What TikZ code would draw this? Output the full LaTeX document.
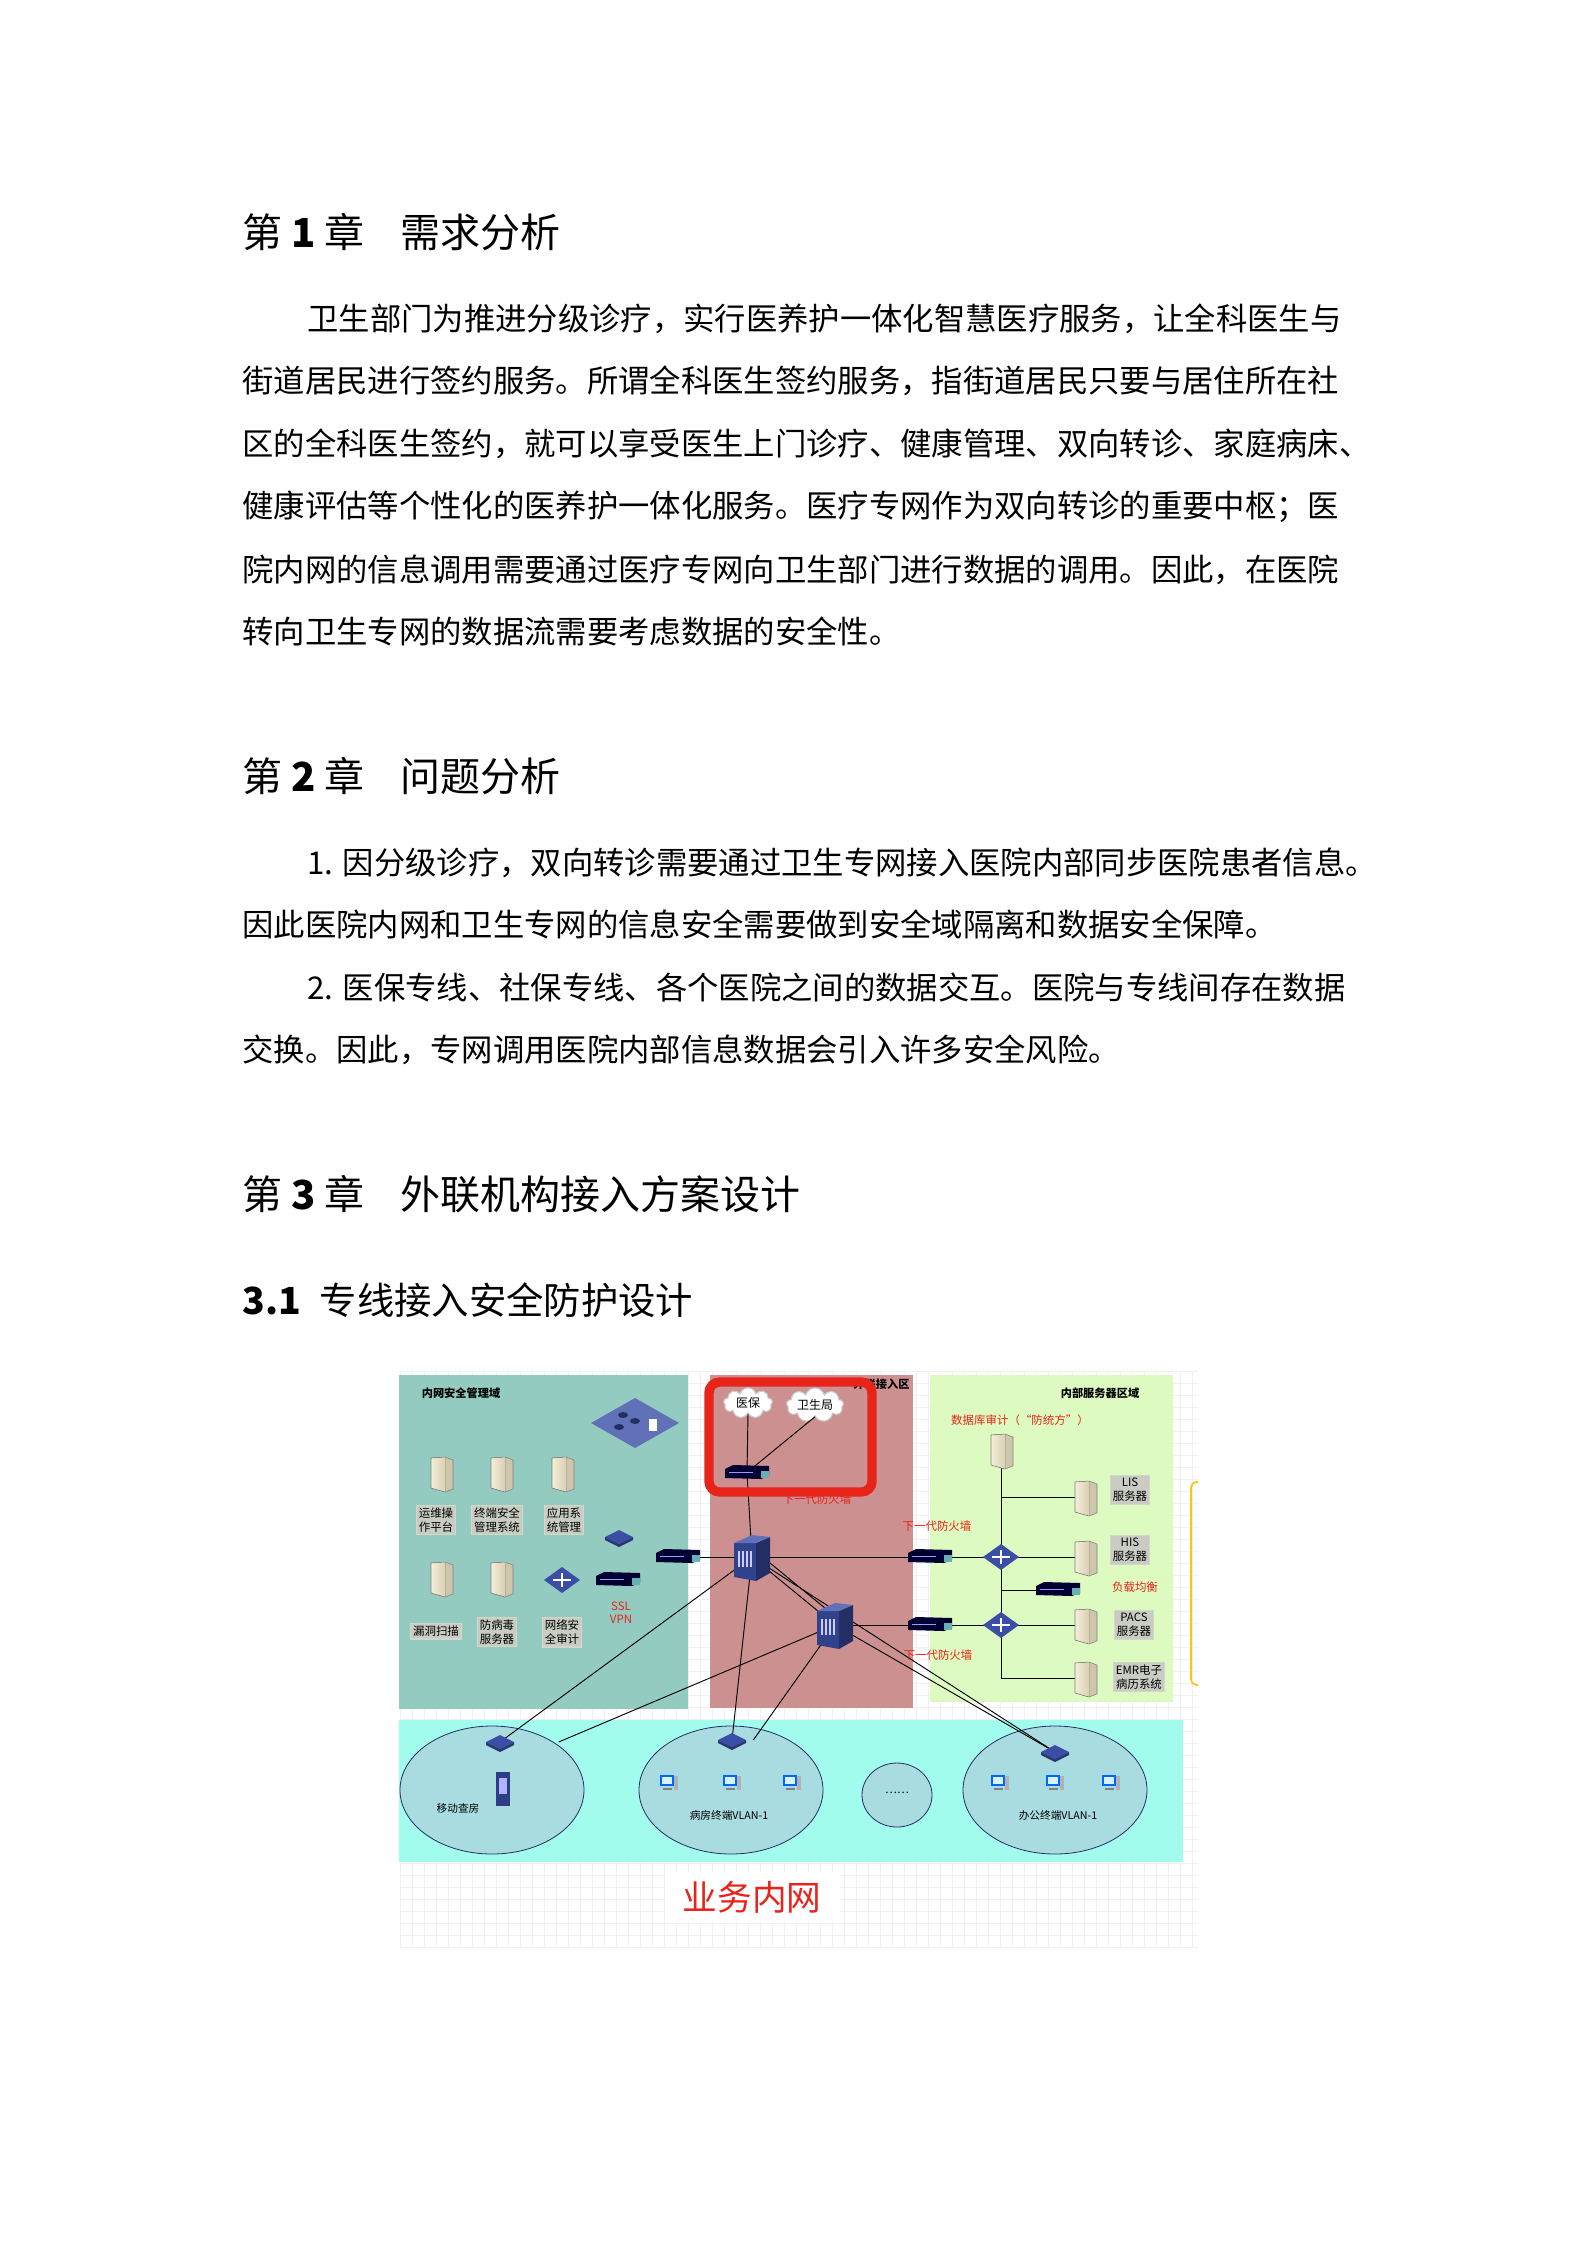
\documentclass[tikz,border=0pt]{standalone}
\usepackage{fontspec}
\setmainfont{Noto Sans CJK SC}
\usetikzlibrary{shapes.symbols}
\definecolor{teal1}{HTML}{94CBC0}
\definecolor{redz}{HTML}{CC9090}
\definecolor{greenz}{HTML}{DDFBC0}
\definecolor{cyanz}{HTML}{A2FCEE}
\definecolor{circz}{HTML}{A9DCE0}
\definecolor{blueic}{HTML}{3A4EA6}
\definecolor{redt}{HTML}{E8231A}
\definecolor{srvc}{HTML}{EFE3C0}
\definecolor{lblg}{HTML}{C9CCC2}
\begin{document}
\begin{tikzpicture}[x=0.375pt,y=-0.375pt,
  body/.style={anchor=base west,inner sep=0,font=\fontsize{11.75}{12}\selectfont},
  head/.style={anchor=base west,inner sep=0,font=\fontsize{15}{15}\selectfont},
  lbl/.style={fill=lblg,draw=lblg!80!white,inner sep=1pt,align=center,font=\fontsize{4.3}{5.2}\selectfont},
  rlbl/.style={text=redt,inner sep=0,align=center,font=\fontsize{4.3}{5}\selectfont},
  ttl/.style={inner sep=0,font=\fontsize{4.2}{5}\selectfont\bfseries},
  dot/.style={inner sep=0,minimum size=2pt},
  ln/.style={black,line width=0.35pt},
  srv/.pic={\fill[srvc!70!gray] (4,-16) -- (12,-13) -- (12,16) -- (4,19) -- cycle;
            \fill[left color=srvc!60!white,right color=srvc!80!gray] (-10,-15) -- (4,-16) -- (4,19) -- (-10,15) -- cycle;
            \draw[gray,line width=0.2pt] (-10,-15) -- (4,-16) -- (12,-13) -- (12,16) -- (4,19) -- (-10,15) -- cycle;},
  fwl/.pic={\fill[black!80!blue] (-22,-4) -- (-14,-8) -- (22,-7) -- (22,3) -- (14,6) -- (-22,5) -- cycle;
            \fill[green!50!blue!60] (14,-2) rectangle (22,5);
            \fill[white!60!blue] (-18,-1) rectangle (6,0);},
  flat/.pic={\fill[blueic] (-14,0) -- (0,-7) -- (14,0) -- (0,7) -- cycle;
             \fill[blueic!70!black] (-14,0) -- (0,7) -- (14,0) -- (14,3) -- (0,10) -- (-14,3) -- cycle;},
  core/.pic={\fill[blueic!85!black] (-18,-14) -- (4,-14) -- (4,24) -- (-18,20) -- cycle;
             \fill[blueic!60!black] (4,-14) -- (18,-20) -- (18,16) -- (4,24) -- cycle;
             \fill[blueic!80!white] (-18,-14) -- (0,-22) -- (18,-20) -- (4,-14) -- cycle;
             \foreach \i in {-14,-10,-6,-2}{\fill[white!80!blue] (\i,-6) rectangle (\i+2,10);}},
  lthree/.pic={\fill[blueic] (-18,0) -- (0,-13) -- (18,0) -- (0,13) -- cycle;
               \draw[white,line width=0.5pt] (-9,0) -- (9,0) (0,-7) -- (0,7);},
  pc/.pic={\fill[blue!60!cyan] (-9,-7) rectangle (5,4); \fill[white!85!cyan] (-7,-5) rectangle (3,2);
           \fill[gray!60] (5,-6) rectangle (9,8); \fill[gray] (-6,6) rectangle (3,8);}
]
\useasboundingbox (0,0) rectangle (1587,2245);
\fill[white] (0,0) rectangle (1587,2245);

% ---------- text ----------
\node[head] (h1) at (242,247) {第 \textbf{1} 章\enskip\, 需求分析};
\node[body] (p1) at (307,330) {卫生部门为推进分级诊疗，实行医养护一体化智慧医疗服务，让全科医生与};
\node[body] (p2) at (242,392) {街道居民进行签约服务。所谓全科医生签约服务，指街道居民只要与居住所在社};
\node[body] (p3) at (242,455) {区的全科医生签约，就可以享受医生上门诊疗、健康管理、双向转诊、家庭病床、};
\node[body] (p4) at (242,517) {健康评估等个性化的医养护一体化服务。医疗专网作为双向转诊的重要中枢；医};
\node[body] (p5) at (242,581) {院内网的信息调用需要通过医疗专网向卫生部门进行数据的调用。因此，在医院};
\node[body] (p6) at (242,643) {转向卫生专网的数据流需要考虑数据的安全性。};
\node[head] (h2) at (242,791) {第 \textbf{2} 章\enskip\, 问题分析};
\node[body] (q1) at (307,874) {1. 因分级诊疗，双向转诊需要通过卫生专网接入医院内部同步医院患者信息。};
\node[body] (q2) at (242,936) {因此医院内网和卫生专网的信息安全需要做到安全域隔离和数据安全保障。};
\node[body] (q3) at (307,999) {2. 医保专线、社保专线、各个医院之间的数据交互。医院与专线间存在数据};
\node[body] (q4) at (242,1061) {交换。因此，专网调用医院内部信息数据会引入许多安全风险。};
\node[head] (h3) at (242,1209) {第 \textbf{3} 章\enskip\, 外联机构接入方案设计};
\node[head,font=\fontsize{14}{14}\selectfont] (h31) at (242,1314) {\textbf{3.1}\enskip 专线接入安全防护设计};

% ---------- diagram background grid ----------
\begin{scope}
\clip (400,1371) rectangle (1198,1948);
\foreach \x in {400,412,...,1198}{\draw[gray!12,line width=0.2pt] (\x,1371) -- (\x,1948);}
\foreach \y in {1371,1383,...,1948}{\draw[gray!12,line width=0.2pt] (400,\y) -- (1198,\y);}
\end{scope}

% zones
\fill[teal1] (399,1375) rectangle (688,1709);
\fill[redz] (710,1375) rectangle (913,1708);
\fill[greenz] (930,1375) rectangle (1173,1702);
\fill[cyanz] (399,1720) rectangle (1183,1862);
\draw[yellow!60!orange,line width=0.6pt,rounded corners=2pt] (1198,1482) -- (1191,1482) -- (1191,1685) -- (1198,1685);

\node[ttl] (t1) at (461,1393) {内网安全管理域};
\node[ttl] (t2) at (1100,1393) {内部服务器区域};
\node[ttl,anchor=east] (t3) at (910,1384) {外联接入区};

% circles
\fill[circz,draw=blueic!60!black,line width=0.3pt] (492,1790) ellipse [x radius=92,y radius=64];
\fill[circz,draw=blueic!60!black,line width=0.3pt] (731,1790) ellipse [x radius=92,y radius=64];
\fill[circz,draw=blueic!60!black,line width=0.3pt] (897,1795) ellipse [x radius=35,y radius=32];
\fill[circz,draw=blueic!60!black,line width=0.3pt] (1055,1790) ellipse [x radius=92,y radius=64];
\node[ttl,font=\fontsize{4.2}{5}\selectfont] (el) at (897,1793) {……};

% named device positions
\node[dot] (fwt) at (678,1557) {};
\node[dot] (c1) at (752,1557) {};
\node[dot] (c2) at (835,1625) {};
\node[dot] (fwa) at (747,1473) {};
\node[dot] (fwr1) at (930,1557) {};
\node[dot] (fwr2) at (930,1625) {};
\node[dot] (s1) at (1001,1557) {};
\node[dot] (s2) at (1001,1625) {};
\node[dot] (dba) at (1001,1450) {};
\node[dot] (lis) at (1085,1497) {};
\node[dot] (his) at (1085,1557) {};
\node[dot] (pacs) at (1085,1625) {};
\node[dot] (emr) at (1085,1678) {};
\node[dot] (lb) at (1058,1590) {};
\node[dot] (msw) at (500,1742) {};
\node[dot] (wsw) at (732,1740) {};
\node[dot] (osw) at (1055,1752) {};
\coordinate (j1) at (1001,1497);
\coordinate (j2) at (1001,1590);
\coordinate (j3) at (1001,1678);

% clouds
\node[cloud,cloud puffs=9,aspect=2.4,fill=white,draw=gray!40,inner sep=0.5pt,font=\fontsize{4.5}{5}\selectfont] (yb) at (748,1403) {医保};
\node[cloud,cloud puffs=9,aspect=2.6,fill=white,draw=gray!40,inner sep=0.5pt,font=\fontsize{4.5}{5}\selectfont] (wsj) at (815,1405) {卫生局};

% connectors
\draw[ln] (yb.south) -- (fwa) -- (c1);
\draw[ln] (wsj.south) -- (fwa.north east);
\draw[ln] (fwt) -- (c1) -- (fwr1) -- (s1) -- (his);
\draw[ln] (c1) -- (c2);
\draw[ln] ([xshift=4]c1.center) -- ([xshift=4]c2.center);
\draw[ln] (c2) -- (fwr2) -- (s2) -- (pacs);
\draw[ln] (dba) -- (j3) -- (emr);
\draw[ln] (j1) -- (lis);
\draw[ln] (j2) -- (lb);
\draw[ln] (c1) -- (msw);
\draw[ln] (c2) -- ([xshift=22]msw.center);
\draw[ln] (c1) -- (wsw);
\draw[ln] (c2) -- ([xshift=8]wsw.center);
\draw[ln] (c1) -- (osw);
\draw[ln] (c2) -- (osw);

% icons
\pic at (635,1423) {code={\fill[blueic!80] (-44,0) -- (0,-25) -- (44,0) -- (0,25) -- cycle;
  \foreach \p in {(-12,-8),(0,-2),(-16,4)}{\fill[blueic!60!black] \p ellipse [x radius=5,y radius=3];}
  \fill[white] (14,-4) rectangle (22,8);}};
\foreach \x in {441,501,562}{\pic at (\x,1473) {srv};}
\foreach \x in {441,501}{\pic at (\x,1578) {srv};}
\pic at (562,1580) {lthree};
\pic at (619,1537) {flat};
\pic at (618,1580) {fwl};
\pic at (678,1557) {fwl};
\pic at (747,1473) {fwl};
\pic at (752,1557) {core};
\pic at (835,1625) {core};
\pic at (930,1557) {fwl};
\pic at (930,1625) {fwl};
\pic at (1001,1557) {lthree};
\pic at (1001,1625) {lthree};
\pic at (1001,1450) {srv};
\foreach \y in {1497,1557,1625,1678}{\pic at (1085,\y) {srv};}
\pic at (1058,1590) {fwl};
\pic at (500,1742) {flat};
\pic at (732,1740) {flat};
\pic at (1055,1752) {flat};
\foreach \x in {669,732,792,1000,1055,1111}{\pic at (\x,1782) {pc};}
\fill[blueic!80!black] (496,1772) rectangle (510,1806);
\fill[white!70!blue] (499,1778) rectangle (507,1794);

% labels
\node[lbl] (l1) at (436,1520) {运维操\\作平台};
\node[lbl] (l2) at (497,1520) {终端安全\\管理系统};
\node[lbl] (l3) at (564,1520) {应用系\\统管理};
\node[lbl] (l4) at (436,1631) {漏洞扫描};
\node[lbl] (l5) at (497,1632) {防病毒\\服务器};
\node[lbl] (l6) at (562,1632) {网络安\\全审计};
\node[rlbl] (ssl) at (621,1613) {SSL\\VPN};
\node[lbl] (l7) at (1130,1490) {LIS\\服务器};
\node[lbl] (l8) at (1130,1550) {HIS\\服务器};
\node[lbl] (l9) at (1134,1625) {PACS\\服务器};
\node[lbl] (l10) at (1139,1677) {EMR电子\\病历系统};
\node[rlbl] (r1) at (937,1526) {下一代防火墙};
\node[rlbl] (r2) at (938,1655) {下一代防火墙};
\node[rlbl] (r3) at (1020,1420) {数据库审计（“防统方”）};
\node[rlbl] (r4) at (1135,1587) {负载均衡};
\node[rlbl] (r5) at (817,1499) {下一代防火墙};
\node[ttl,font=\fontsize{4}{5}\selectfont] (m1) at (458,1808) {移动查房};
\node[ttl,font=\fontsize{4}{5}\selectfont] (m2) at (729,1815) {病房终端VLAN-1};
\node[ttl,font=\fontsize{4}{5}\selectfont] (m3) at (1058,1815) {办公终端VLAN-1};

% red highlight box
\draw[redt,line width=3.5pt,rounded corners=4pt] (709,1382) rectangle (872,1492);

% caption
\fill[white] (665,1872) rectangle (840,1922);
\node[text=redt,inner sep=0,font=\fontsize{13}{13}\selectfont] (cap) at (752,1897) {业务内网};
\end{tikzpicture}
\end{document}
